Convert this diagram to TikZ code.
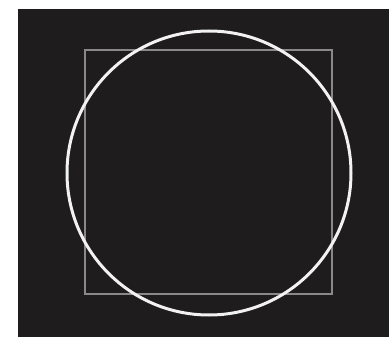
\documentclass[tikz,border=0pt]{standalone}
\definecolor{bg}{HTML}{1E1C1C}
\definecolor{sqc}{HTML}{8A8888}
\definecolor{circc}{HTML}{F2F2F2}
\tikzset{
  sqstyle/.style={draw=sqc, line width=2pt},
  circstyle/.style={draw=circc, line width=3pt}
}
\begin{document}
\begin{tikzpicture}[x=1pt,y=-1pt]
\useasboundingbox (0,0) rectangle (389,337);
\fill[white] (0,0) rectangle (389,337);
\fill[bg] (18,9) rectangle (389,337);
\node[sqstyle, minimum width=247pt, minimum height=244pt, inner sep=0pt] (sq) at (208.5,172) {};
\node[circstyle, circle, minimum size=284pt, inner sep=0pt] (circ) at (209,173) {};
\end{tikzpicture}
\end{document}
